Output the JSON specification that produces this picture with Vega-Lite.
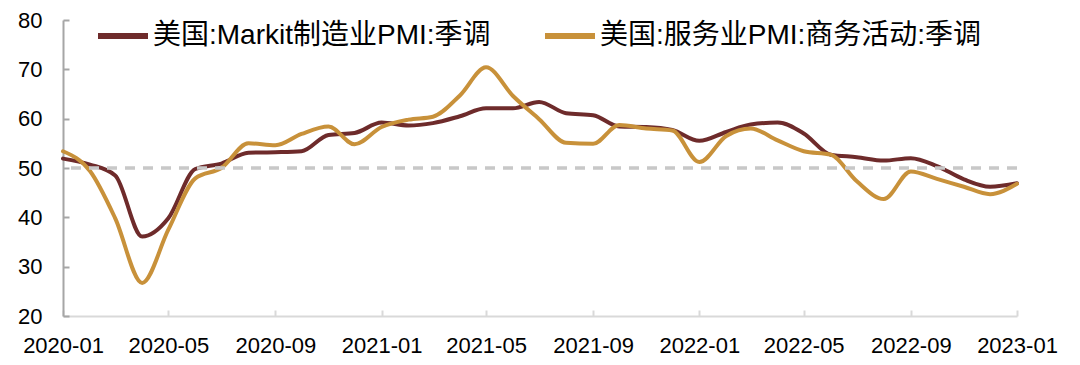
{
  "$schema": "https://vega.github.io/schema/vega-lite/v6.json",
  "autosize": {"type": "none"},
  "width": 954,
  "height": 296,
  "padding": {"left": 63, "top": 20, "right": 63, "bottom": 49},
  "background": "white",
  "config": {
    "view": {"stroke": null},
    "font": "Liberation Sans, Noto Sans CJK SC"
  },
  "datasets": {
    "pmi": [
      {"date": "2020-01-01", "series": "美国:Markit制造业PMI:季调", "value": 51.9},
      {"date": "2020-02-01", "series": "美国:Markit制造业PMI:季调", "value": 50.7},
      {"date": "2020-03-01", "series": "美国:Markit制造业PMI:季调", "value": 48.5},
      {"date": "2020-04-01", "series": "美国:Markit制造业PMI:季调", "value": 36.1},
      {"date": "2020-05-01", "series": "美国:Markit制造业PMI:季调", "value": 39.8},
      {"date": "2020-06-01", "series": "美国:Markit制造业PMI:季调", "value": 49.8},
      {"date": "2020-07-01", "series": "美国:Markit制造业PMI:季调", "value": 50.9},
      {"date": "2020-08-01", "series": "美国:Markit制造业PMI:季调", "value": 53.1},
      {"date": "2020-09-01", "series": "美国:Markit制造业PMI:季调", "value": 53.2},
      {"date": "2020-10-01", "series": "美国:Markit制造业PMI:季调", "value": 53.4},
      {"date": "2020-11-01", "series": "美国:Markit制造业PMI:季调", "value": 56.7},
      {"date": "2020-12-01", "series": "美国:Markit制造业PMI:季调", "value": 57.1},
      {"date": "2021-01-01", "series": "美国:Markit制造业PMI:季调", "value": 59.2},
      {"date": "2021-02-01", "series": "美国:Markit制造业PMI:季调", "value": 58.6},
      {"date": "2021-03-01", "series": "美国:Markit制造业PMI:季调", "value": 59.1},
      {"date": "2021-04-01", "series": "美国:Markit制造业PMI:季调", "value": 60.5},
      {"date": "2021-05-01", "series": "美国:Markit制造业PMI:季调", "value": 62.1},
      {"date": "2021-06-01", "series": "美国:Markit制造业PMI:季调", "value": 62.1},
      {"date": "2021-07-01", "series": "美国:Markit制造业PMI:季调", "value": 63.4},
      {"date": "2021-08-01", "series": "美国:Markit制造业PMI:季调", "value": 61.1},
      {"date": "2021-09-01", "series": "美国:Markit制造业PMI:季调", "value": 60.7},
      {"date": "2021-10-01", "series": "美国:Markit制造业PMI:季调", "value": 58.4},
      {"date": "2021-11-01", "series": "美国:Markit制造业PMI:季调", "value": 58.3},
      {"date": "2021-12-01", "series": "美国:Markit制造业PMI:季调", "value": 57.7},
      {"date": "2022-01-01", "series": "美国:Markit制造业PMI:季调", "value": 55.5},
      {"date": "2022-02-01", "series": "美国:Markit制造业PMI:季调", "value": 57.3},
      {"date": "2022-03-01", "series": "美国:Markit制造业PMI:季调", "value": 58.8},
      {"date": "2022-04-01", "series": "美国:Markit制造业PMI:季调", "value": 59.2},
      {"date": "2022-05-01", "series": "美国:Markit制造业PMI:季调", "value": 57.0},
      {"date": "2022-06-01", "series": "美国:Markit制造业PMI:季调", "value": 52.7},
      {"date": "2022-07-01", "series": "美国:Markit制造业PMI:季调", "value": 52.2},
      {"date": "2022-08-01", "series": "美国:Markit制造业PMI:季调", "value": 51.5},
      {"date": "2022-09-01", "series": "美国:Markit制造业PMI:季调", "value": 52.0},
      {"date": "2022-10-01", "series": "美国:Markit制造业PMI:季调", "value": 50.4},
      {"date": "2022-11-01", "series": "美国:Markit制造业PMI:季调", "value": 47.7},
      {"date": "2022-12-01", "series": "美国:Markit制造业PMI:季调", "value": 46.2},
      {"date": "2023-01-01", "series": "美国:Markit制造业PMI:季调", "value": 46.9},
      {"date": "2020-01-01", "series": "美国:服务业PMI:商务活动:季调", "value": 53.4},
      {"date": "2020-02-01", "series": "美国:服务业PMI:商务活动:季调", "value": 49.4},
      {"date": "2020-03-01", "series": "美国:服务业PMI:商务活动:季调", "value": 39.8},
      {"date": "2020-04-01", "series": "美国:服务业PMI:商务活动:季调", "value": 26.7},
      {"date": "2020-05-01", "series": "美国:服务业PMI:商务活动:季调", "value": 37.5},
      {"date": "2020-06-01", "series": "美国:服务业PMI:商务活动:季调", "value": 47.9},
      {"date": "2020-07-01", "series": "美国:服务业PMI:商务活动:季调", "value": 50.0},
      {"date": "2020-08-01", "series": "美国:服务业PMI:商务活动:季调", "value": 55.0},
      {"date": "2020-09-01", "series": "美国:服务业PMI:商务活动:季调", "value": 54.6},
      {"date": "2020-10-01", "series": "美国:服务业PMI:商务活动:季调", "value": 56.9},
      {"date": "2020-11-01", "series": "美国:服务业PMI:商务活动:季调", "value": 58.4},
      {"date": "2020-12-01", "series": "美国:服务业PMI:商务活动:季调", "value": 54.8},
      {"date": "2021-01-01", "series": "美国:服务业PMI:商务活动:季调", "value": 58.3},
      {"date": "2021-02-01", "series": "美国:服务业PMI:商务活动:季调", "value": 59.8},
      {"date": "2021-03-01", "series": "美国:服务业PMI:商务活动:季调", "value": 60.4},
      {"date": "2021-04-01", "series": "美国:服务业PMI:商务活动:季调", "value": 64.7},
      {"date": "2021-05-01", "series": "美国:服务业PMI:商务活动:季调", "value": 70.4},
      {"date": "2021-06-01", "series": "美国:服务业PMI:商务活动:季调", "value": 64.6},
      {"date": "2021-07-01", "series": "美国:服务业PMI:商务活动:季调", "value": 59.9},
      {"date": "2021-08-01", "series": "美国:服务业PMI:商务活动:季调", "value": 55.1},
      {"date": "2021-09-01", "series": "美国:服务业PMI:商务活动:季调", "value": 54.9},
      {"date": "2021-10-01", "series": "美国:服务业PMI:商务活动:季调", "value": 58.7},
      {"date": "2021-11-01", "series": "美国:服务业PMI:商务活动:季调", "value": 58.0},
      {"date": "2021-12-01", "series": "美国:服务业PMI:商务活动:季调", "value": 57.6},
      {"date": "2022-01-01", "series": "美国:服务业PMI:商务活动:季调", "value": 51.2},
      {"date": "2022-02-01", "series": "美国:服务业PMI:商务活动:季调", "value": 56.5},
      {"date": "2022-03-01", "series": "美国:服务业PMI:商务活动:季调", "value": 58.0},
      {"date": "2022-04-01", "series": "美国:服务业PMI:商务活动:季调", "value": 55.6},
      {"date": "2022-05-01", "series": "美国:服务业PMI:商务活动:季调", "value": 53.4},
      {"date": "2022-06-01", "series": "美国:服务业PMI:商务活动:季调", "value": 52.7},
      {"date": "2022-07-01", "series": "美国:服务业PMI:商务活动:季调", "value": 47.3},
      {"date": "2022-08-01", "series": "美国:服务业PMI:商务活动:季调", "value": 43.7},
      {"date": "2022-09-01", "series": "美国:服务业PMI:商务活动:季调", "value": 49.3},
      {"date": "2022-10-01", "series": "美国:服务业PMI:商务活动:季调", "value": 47.8},
      {"date": "2022-11-01", "series": "美国:服务业PMI:商务活动:季调", "value": 46.2},
      {"date": "2022-12-01", "series": "美国:服务业PMI:商务活动:季调", "value": 44.7},
      {"date": "2023-01-01", "series": "美国:服务业PMI:商务活动:季调", "value": 46.8}
    ],
    "ref": [{"level": 50}]
  },
  "layer": [
    {
      "data": {"name": "pmi"},
      "mark": {"type": "line", "interpolate": "monotone", "strokeWidth": 4, "strokeCap": "round"},
      "encoding": {
        "x": {
          "field": "date", "type": "temporal",
          "scale": {"type": "utc", "domain": ["2020-01-01", "2023-01-01"]},
          "axis": {
            "title": null, "grid": false,
            "values": ["2020-01-01", "2020-05-01", "2020-09-01", "2021-01-01", "2021-05-01", "2021-09-01", "2022-01-01", "2022-05-01", "2022-09-01", "2023-01-01"],
            "labelExpr": "utcFormat(datum.value, '%Y-%m')",
            "labelFont": "Liberation Sans", "labelFontSize": 22, "labelColor": "#000",
            "domainColor": "#D9D9D9", "domainWidth": 2, "tickColor": "#D9D9D9", "tickWidth": 2, "tickSize": -6,
            "labelPadding": 25, "labelFlush": false
          }
        },
        "y": {
          "field": "value", "type": "quantitative",
          "scale": {"domain": [20, 80], "nice": false, "zero": false},
          "axis": {
            "title": null, "grid": false,
            "values": [20, 30, 40, 50, 60, 70, 80],
            "labelFont": "Liberation Sans", "labelFontSize": 22, "labelColor": "#000",
            "domainColor": "#A6A6A6", "domainWidth": 2, "tickColor": "#A6A6A6", "tickWidth": 2, "tickSize": -6,
            "labelPadding": 27
          }
        },
        "color": {
          "field": "series", "type": "nominal",
          "scale": {"domain": ["美国:Markit制造业PMI:季调", "美国:服务业PMI:商务活动:季调"], "range": ["#6E2B2B", "#C8913A"]},
          "legend": {
            "title": null, "orient": "none", "legendX": 32, "legendY": -12,
            "direction": "horizontal", "columns": 2, "columnPadding": 42,
            "symbolType": "stroke", "symbolSize": 2500, "symbolStrokeWidth": 6,
            "labelFont": "Liberation Sans, Noto Sans CJK SC", "labelFontSize": 28, "labelColor": "#000", "labelOffset": 2, "labelLimit": 600
          }
        }
      }
    },
    {
      "data": {"name": "ref"},
      "mark": {"type": "rule", "color": "#C8C8C8", "strokeWidth": 3.5, "strokeDash": [10, 8]},
      "encoding": {"y": {"field": "level", "type": "quantitative"}}
    }
  ]
}
